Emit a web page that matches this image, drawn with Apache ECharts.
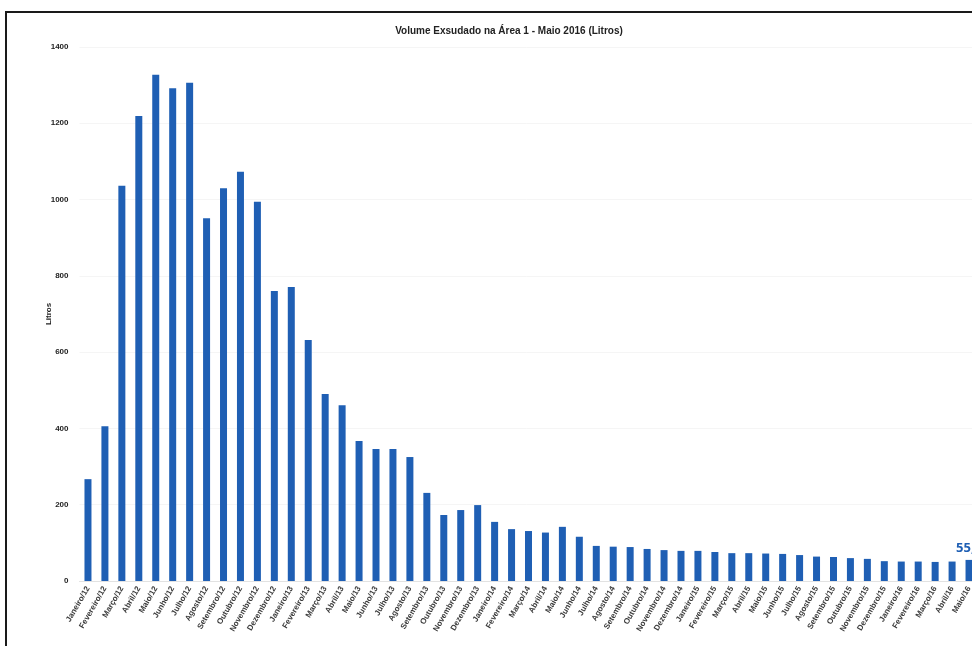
<!DOCTYPE html>
<html>
<head>
<meta charset="utf-8">
<script src="https://cdn.jsdelivr.net/npm/echarts@6/dist/echarts.min.js"></script>
<style>
  html, body { margin: 0; padding: 0; background: #ffffff; }
  #chart { width: 972px; height: 646px; }
</style>
</head>
<body>
<div id="chart"></div>
<script>
// Monthly exuded volume, Área 1 (litres)
const months = [
  'Janeiro/12','Fevereiro/12','Março/12','Abril/12','Maio/12','Junho/12','Julho/12','Agosto/12','Setembro/12','Outubro/12','Novembro/12','Dezembro/12',
  'Janeiro/13','Fevereiro/13','Março/13','Abril/13','Maio/13','Junho/13','Julho/13','Agosto/13','Setembro/13','Outubro/13','Novembro/13','Dezembro/13',
  'Janeiro/14','Fevereiro/14','Março/14','Abril/14','Maio/14','Junho/14','Julho/14','Agosto/14','Setembro/14','Outubro/14','Novembro/14','Dezembro/14',
  'Janeiro/15','Fevereiro/15','Março/15','Abril/15','Maio/15','Junho/15','Julho/15','Agosto/15','Setembro/15','Outubro/15','Novembro/15','Dezembro/15',
  'Janeiro/16','Fevereiro/16','Março/16','Abril/16','Maio/16'
];
const volumes = [
  267, 406, 1036, 1219, 1327, 1292, 1306, 951, 1030, 1073, 994, 760,
  771, 632, 490, 461, 367, 346, 346, 325, 231, 173, 186, 199,
  155, 136, 131, 127, 142, 116, 92, 90, 89, 84, 81, 79,
  79, 76, 73, 73, 72, 71, 68, 64, 63, 60, 58, 52,
  51, 51, 50, 51, 55.3
];
const yTicks = { min: 0, max: 1400, step: 200 };
const titleText = 'Volume Exsudado na Área 1 - Maio 2016 (Litros)';
const yName = 'Litros';

const lastIndex = volumes.length - 1;
const font = '"Liberation Sans", sans-serif';
const chart = echarts.init(document.getElementById('chart'), null, { renderer: 'canvas' });

chart.setOption({
  backgroundColor: '#ffffff',
  animation: false,
  title: {
    text: titleText,
    left: 504,
    top: 21,
    textAlign: 'center',
    textStyle: { fontFamily: font, fontSize: 10, fontWeight: 'bold', color: '#222' }
  },
  graphic: [{
    type: 'rect',
    silent: true,
    shape: { x: 6, y: 12, width: 1000, height: 700 },
    style: { fill: 'none', stroke: '#1a1a1a', lineWidth: 2 }
  }],
  // plot area runs slightly past the right edge, so the last bar is cut
  grid: {
    left: 79.5, width: 898, top: 47, bottom: 65,
    containLabel: false,
    outerBoundsMode: 'none'
  },
  xAxis: {
    type: 'category',
    data: months,
    boundaryGap: true,
    axisLine: { show: true, lineStyle: { color: '#e2e2e2' } },
    axisTick: { show: false },
    axisLabel: {
      interval: 0,
      rotate: 60,
      margin: 6,
      fontFamily: font,
      fontSize: 8,
      fontWeight: 'bold',
      color: '#3a3a3a'
    }
  },
  yAxis: {
    type: 'value',
    min: yTicks.min,
    max: yTicks.max,
    interval: yTicks.step,
    name: yName,
    nameLocation: 'middle',
    nameGap: 27,
    nameMoveOverlap: false,
    nameTextStyle: { fontFamily: font, fontSize: 8, fontWeight: 'bold', color: '#222' },
    axisLine: { show: false },
    axisTick: { show: false },
    splitLine: { show: true, lineStyle: { color: '#f5f5f5', width: 1 } },
    axisLabel: {
      margin: 11,
      formatter: v => String(v),
      fontFamily: font,
      fontSize: 8,
      fontWeight: 'bold',
      color: '#222'
    }
  },
  series: [{
    type: 'bar',
    data: volumes.map((v, i) => i === lastIndex ? {
      value: v,
      label: {
        show: true,
        position: 'top',
        distance: 5,
        formatter: p => String(p.value).replace('.', ','),
        fontFamily: '"Open Sans", "Liberation Sans", sans-serif',
        fontSize: 13,
        fontWeight: 'bold',
        color: '#1f5fb4'
      }
    } : v),
    barWidth: 7,
    itemStyle: { color: '#1f5fb4' }
  }]
});
</script>
</body>
</html>
